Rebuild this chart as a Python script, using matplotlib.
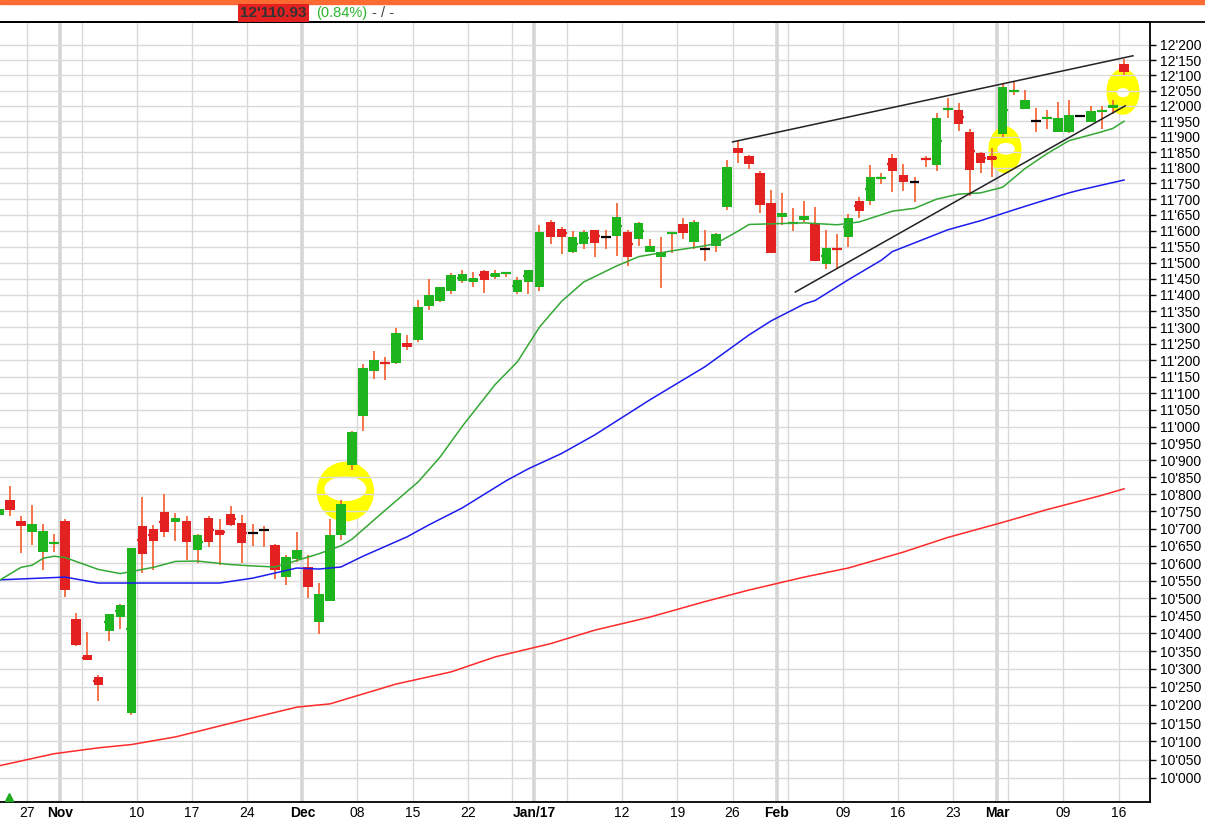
import numpy as np
import pandas as pd
import matplotlib
matplotlib.use("Agg")
import matplotlib.pyplot as plt
from matplotlib.patches import Ellipse, Rectangle
from matplotlib.lines import Line2D
from matplotlib.ticker import FixedLocator, NullLocator

plt.rcParams['font.family'] = ['Liberation Sans Narrow', 'Liberation Sans', 'DejaVu Sans']

# trading days (Dec 26 closed)
days = pd.bdate_range('2016-10-24', '2017-03-16')
days = days[days != pd.Timestamp('2016-12-26')]

opens = [10739, 10783, 10722, 10691, 10633, 10657, 10722, 10441, 10339, 10278,
         10408, 10447, 10179, 10708, 10699, 10749, 10720, 10722, 10639, 10731,
         10696, 10743, 10716, 10687, 10695, 10652, 10560, 10612, 10589, 10432,
         10492, 10681, 10885, 11033, 11167, 11195, 11190, 11251, 11262, 11367,
         11381, 11412, 11443, 11440, 11475, 11456, 11465, 11409, 11440, 11426,
         11628, 11606, 11535, 11559, 11603, 11580, 11584, 11597, 11575, 11535,
         11519, 11590, 11622, 11565, 11542, 11553, 11675, 11864, 11838, 11783,
         11688, 11645, 11624, 11634, 11624, 11497, 11545, 11582, 11694, 11695,
         11765, 11831, 11777, 11754, 11828, 11810, 11985, 11985, 11914, 11848,
         11838, 11909, 12047, 11991, 11952, 11957, 11916, 11914, 11968, 11948,
         11980, 11994, 12136]
highs = [10760, 10824, 10735, 10769, 10713, 10684, 10729, 10459, 10405, 10283,
         10455, 10483, 10644, 10793, 10710, 10801, 10746, 10735, 10684, 10735,
         10727, 10766, 10740, 10713, 10708, 10655, 10623, 10690, 10623, 10543,
         10727, 10783, 10986, 11188, 11228, 11210, 11298, 11276, 11385, 11450,
         11425, 11469, 11478, 11471, 11478, 11478, 11471, 11456, 11478, 11619,
         11634, 11612, 11600, 11603, 11603, 11603, 11688, 11603, 11628, 11575,
         11581, 11597, 11641, 11634, 11603, 11594, 11825, 11890, 11841, 11790,
         11729, 11720, 11671, 11694, 11675, 11603, 11591, 11653, 11707, 11809,
         11784, 11844, 11812, 11770, 11837, 11977, 12026, 12009, 11926, 11852,
         11863, 12071, 12078, 12052, 11992, 11985, 12011, 12019, 11970, 12000,
         12000, 12018, 12152]
lows = [10735, 10737, 10630, 10652, 10580, 10633, 10504, 10364, 10324, 10212,
        10379, 10412, 10172, 10573, 10580, 10676, 10665, 10609, 10601, 10647,
        10594, 10708, 10601, 10649, 10647, 10554, 10537, 10604, 10501, 10398,
        10492, 10667, 10872, 10988, 11144, 11140, 11188, 11230, 11255, 11354,
        11378, 11403, 11437, 11425, 11406, 11450, 11456, 11403, 11403, 11412,
        11559, 11528, 11531, 11543, 11519, 11543, 11522, 11490, 11553, 11534,
        11422, 11531, 11575, 11543, 11506, 11534, 11666, 11816, 11797, 11657,
        11531, 11619, 11600, 11628, 11506, 11482, 11482, 11549, 11641, 11682,
        11749, 11724, 11727, 11692, 11804, 11790, 11961, 11917, 11710, 11784,
        11771, 11900, 12036, 11991, 11915, 11926, 11916, 11912, 11966, 11948,
        11926, 11974, 12101]
closes = [10757, 10754, 10708, 10713, 10693, 10662, 10523, 10367, 10324, 10255,
          10455, 10480, 10644, 10627, 10665, 10691, 10731, 10662, 10681, 10662,
          10681, 10711, 10659, 10687, 10695, 10580, 10618, 10638, 10532, 10512,
          10681, 10772, 10983, 11176, 11200, 11189, 11283, 11240, 11363, 11400,
          11425, 11462, 11465, 11453, 11447, 11468, 11471, 11447, 11478, 11597,
          11582, 11582, 11581, 11597, 11563, 11580, 11644, 11519, 11625, 11553,
          11535, 11597, 11594, 11628, 11542, 11591, 11803, 11846, 11813, 11680,
          11531, 11656, 11626, 11647, 11506, 11546, 11542, 11641, 11663, 11771,
          11768, 11791, 11756, 11754, 11826, 11959, 11992, 11942, 11794, 11814,
          11826, 12062, 12053, 12019, 11952, 11961, 11959, 11970, 11968, 11983,
          11984, 12003, 12111]

# moving averages (day index, level)
ma_green_day = [0, 2, 3, 4, 5, 6, 9, 11, 13, 14, 16, 18, 21, 23, 25, 26, 29, 31, 32, 35,
                38, 40, 42, 45, 47, 49, 51, 53, 56, 58, 61, 64, 65, 67, 68, 70, 73, 76,
                78, 81, 83, 85, 87, 89, 91, 93, 95, 97, 100, 101, 102]
ma_green = [10550, 10588, 10594, 10614, 10620, 10616, 10582, 10570, 10582, 10588, 10605,
            10606, 10596, 10592, 10589, 10598, 10627, 10650, 10669, 10753, 10836, 10910,
            11001, 11127, 11195, 11301, 11380, 11440, 11490, 11519, 11537, 11553, 11560,
            11599, 11620, 11622, 11625, 11619, 11628, 11662, 11671, 11700, 11716, 11720,
            11738, 11797, 11845, 11887, 11916, 11927, 11950]
ma_blue_day = [0, 6, 9, 12, 20, 23, 27, 29, 31, 33, 37, 39, 42, 46, 48, 51, 54, 59, 64,
               68, 70, 73, 74, 77, 80, 81, 83, 86, 89, 92, 94, 97, 98, 102]
ma_blue = [10552, 10560, 10543, 10543, 10543, 10557, 10586, 10583, 10589, 10620, 10676,
           10711, 10760, 10840, 10875, 10920, 10975, 11080, 11180, 11277, 11320, 11372,
           11383, 11447, 11508, 11535, 11562, 11603, 11632, 11666, 11688, 11720, 11729, 11761]
ma_red_day = [0, 5, 9, 12, 16, 22, 27, 30, 36, 41, 45, 50, 54, 59, 64, 68, 73, 77, 82,
              86, 91, 95, 100, 102]
ma_red = [10033, 10066, 10082, 10091, 10112, 10157, 10194, 10203, 10258, 10292, 10334,
          10371, 10409, 10446, 10490, 10523, 10560, 10586, 10632, 10674, 10718, 10755,
          10797, 10816]

# hand drawn trend lines
trend_upper_day = [66.5, 102.8]
trend_upper = [11883, 12164]
trend_lower_day = [72.2, 102.1]
trend_lower = [11409, 12000]

o = np.array(opens, float)
h = np.array(highs, float)
l = np.array(lows, float)
c = np.array(closes, float)
x = np.arange(len(days))

GREEN = '#1db41d'
RED = '#e32121'
WICK = '#f5693a'

fig = plt.figure(figsize=(12.05, 8.23), dpi=100)
ax = fig.add_axes([0, 1 - 802 / 823, 1150 / 1205, 780 / 823])
ax.set_yscale('log')
ax.set_xlim(0.09, 104.35)
ax.set_ylim(9935, 12276)

# grid
yt = np.arange(10000, 12201, 50)
ax.yaxis.set_major_locator(FixedLocator(yt))
ax.yaxis.set_minor_locator(NullLocator())
ax.set_yticklabels([f"{v:,}".replace(',', "'") for v in yt])
ax.yaxis.grid(True, color='#d9d9d9', lw=1.0, zorder=0)

tick_pos, tick_lab, tick_bold = [], [], []
month_starts = [i for i in range(1, len(days)) if days[i].month != days[i - 1].month]
for i, d in enumerate(days):
    if i in month_starts:
        ax.axvline(i - 0.5, color='#d6d6d6', lw=2.6, zorder=0)
        tick_pos.append(i - 0.5)
        tick_lab.append('Jan/17' if d.month == 1 else d.strftime('%b'))
        tick_bold.append(True)
    elif d.weekday() == 3:
        ax.axvline(i - 0.5, color='#d9d9d9', lw=1.0, zorder=0)
        if not any(i - 3 <= m <= i + 2 for m in month_starts):
            tick_pos.append(i - 0.5)
            tick_lab.append(d.strftime('%d'))
            tick_bold.append(False)
ax.set_xticks(tick_pos)
ax.set_xticklabels(tick_lab)
for t, b in zip(ax.get_xticklabels(), tick_bold):
    if b:
        t.set_fontweight('bold')

# highlights (yellow marker)
for cx, cy, w, hh, hx, hy, hw, hh2 in [
        (31.4, 10808, 5.2, 175, 31.4, 10816, 3.8, 72),
        (91.2, 11858, 3.0, 150, 91.3, 11861, 1.6, 38),
        (101.9, 12046, 3.0, 150, 101.9, 12043, 1.1, 30)]:
    ax.add_patch(Ellipse((cx, cy), w, hh, color='#ffff00', lw=0, zorder=1))
    ax.add_patch(Ellipse((hx, hy), hw, hh2, color='white', lw=0, zorder=1.1))

# moving averages
ax.plot(ma_red_day, ma_red, color='#ff2a2a', lw=1.1, zorder=4)
ax.plot(ma_blue_day, ma_blue, color='#1c1cf0', lw=1.1, zorder=4)
ax.plot(ma_green_day, ma_green, color='#34a834', lw=1.1, zorder=4)

# candles
body_col = np.where(c > o, GREEN, np.where(c < o, RED, 'black'))
ax.vlines(x, l, h, color=WICK, lw=1.3, zorder=2)
ax.bar(x, np.abs(c - o), bottom=np.minimum(o, c), width=0.86, color=body_col,
       lw=0, zorder=3)
ax.hlines((o + c) / 2, x - 0.45, x + 0.45, colors=body_col, lw=1.6, zorder=3)

# trend lines
ax.plot(trend_upper_day, trend_upper, color='#222222', lw=1.1, zorder=5)
ax.plot(trend_lower_day, trend_lower, color='#222222', lw=1.1, zorder=5)

ax.plot([0.008], [0.007], transform=ax.transAxes, marker='^', ms=6, color='#22aa22',
        clip_on=False, zorder=6)

# axes style
ax.spines['left'].set_visible(False)
for s in ['top', 'right', 'bottom']:
    ax.spines[s].set_color('black')
    ax.spines[s].set_linewidth(1.3)
ax.yaxis.tick_right()
ax.tick_params(axis='y', which='major', direction='out', length=4, width=1,
               labelsize=10, pad=3, colors='black')
ax.tick_params(axis='x', length=0, labelsize=10, pad=3, colors='black')

# header
hdr_font = ['Liberation Sans', 'DejaVu Sans']
fig.patches.append(Rectangle((0, 1 - 4 / 823), 1, 4 / 823, transform=fig.transFigure,
                             color='#ff6a33', zorder=0))
fig.lines.append(Line2D([0, 1], [1 - 22 / 823, 1 - 22 / 823], transform=fig.transFigure,
                        color='black', lw=1.3))
fig.text(240 / 1205, 1 - 13 / 823, "12'110.93", fontsize=11, fontweight='bold',
         color='#333333', va='center', family=hdr_font,
         bbox=dict(boxstyle='square,pad=0.15', fc='#e32121', ec='none'))
fig.text(316 / 1205, 1 - 13 / 823, "(0.84%)", fontsize=10.5, color='#2db52d',
         va='center', family=hdr_font)
fig.text(372 / 1205, 1 - 13 / 823, "- / -", fontsize=10.5, color='#444444',
         va='center', family=hdr_font)

fig.savefig('out.png', dpi=100)
